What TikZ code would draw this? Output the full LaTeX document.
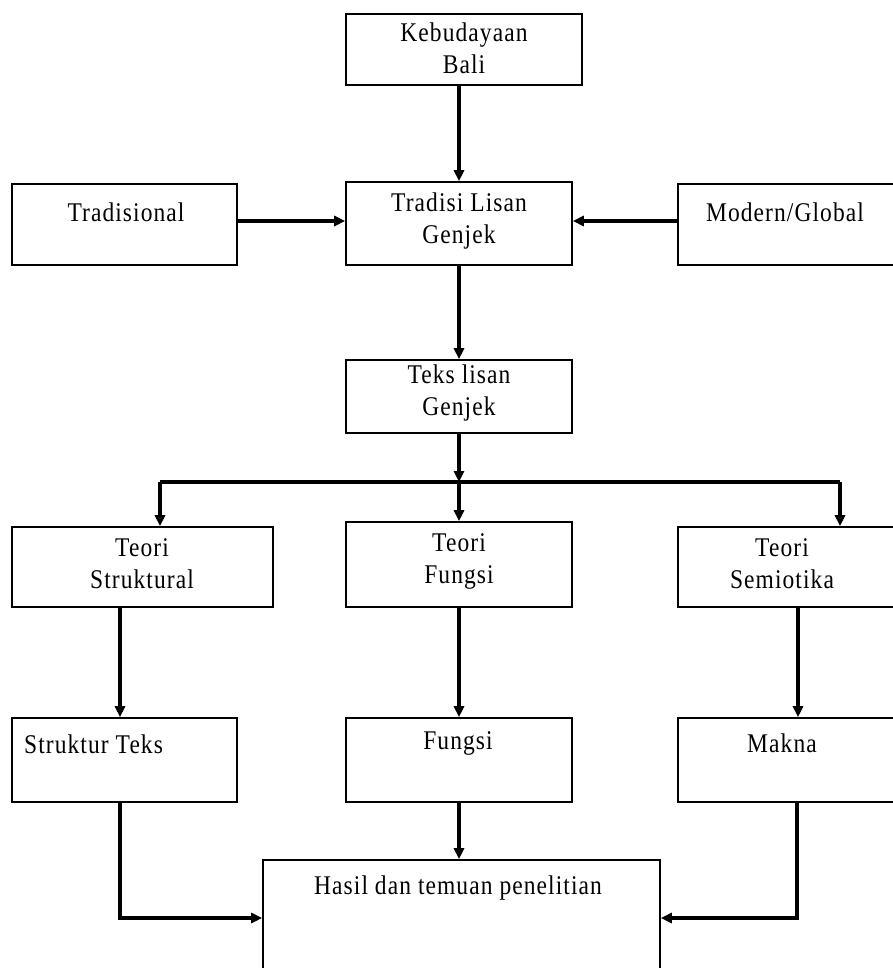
\documentclass[tikz,border=0pt]{standalone}
\usepackage{fontspec}
\setmainfont{Liberation Serif}[LetterSpace=4,FakeStretch=0.87]
\usetikzlibrary{arrows.meta,calc}
\tikzset{
  box/.style={draw=black,line width=1.6pt,rectangle,inner sep=0pt},
  txt/.style={inner sep=0pt,align=center,font=\fontsize{27}{32}\selectfont},
  arr/.style={draw=black,line width=3.4pt,-{Triangle[length=11pt,width=10pt]}},
  ln/.style={draw=black,line width=3.4pt}
}
\newcommand{\bx}[5]{\node[box,minimum width=#4-#2,minimum height=#5-#3] (#1) at ({(#2+#4)/2},{(#3+#5)/2}) {};}
\begin{document}
\begin{tikzpicture}[x=1pt,y=-1pt]
\useasboundingbox (0,0) rectangle (893,968);
\clip (0,0) rectangle (893,968);
% boxes
\bx{keb}{346}{14}{582}{85}
\bx{trad}{12}{184}{237}{265}
\bx{tl}{346}{182}{572}{265}
\bx{mod}{678}{184}{900}{265}
\bx{teks}{346}{360}{572}{433}
\bx{ts}{12}{527}{273}{607}
\bx{tf}{346}{522}{572}{607}
\bx{tsm}{678}{527}{900}{607}
\bx{st}{12}{718}{237}{802}
\bx{fu}{346}{718}{572}{802}
\bx{ma}{678}{718}{900}{802}
\bx{ha}{263}{860}{660}{990}
% texts
\node[txt] (tkeb) at (464,48) {Kebudayaan\\Bali};
\node[txt] (ttrad) at (126,212) {Tradisional};
\node[txt] (ttl) at (459,221) {Tradisi Lisan\\Genjek};
\node[txt] (tmod) at (785,212) {Modern/Global};
\node[txt] (tteks) at (459,393) {Teks lisan\\Genjek};
\node[txt] (tts) at (142,564) {Teori\\Struktural};
\node[txt] (ttf) at (459,561) {Teori\\Fungsi};
\node[txt] (ttsm) at (782,564) {Teori\\Semiotika};
\node[txt,anchor=west] (tst) at (24,744) {Struktur Teks};
\node[txt] (tfu) at (458,743) {Fungsi};
\node[txt] (tma) at (782,743) {Makna};
\node[txt] (tha) at (458,888) {Hasil dan temuan penelitian};
% connectors
\coordinate (j) at (459,482);
\coordinate (jl) at (160,482);
\coordinate (jr) at (840,482);
\draw[arr] (keb.south -| tl.north) -- (tl.north);
\draw[arr] (trad.east |- 0,221) -- (tl.west |- 0,221);
\draw[arr] (mod.west |- 0,221) -- (tl.east |- 0,221);
\draw[arr] (tl.south) -- (teks.north);
\draw[arr] (teks.south) -- (j);
\draw[ln] (jl) -- (jr);
\draw[arr] (j) -- (tf.north);
\draw[arr] (jl) -- (jl |- ts.north);
\draw[arr] (jr) -- (jr |- tsm.north);
\draw[arr] (ts.south -| 120,0) -- (st.north -| 120,0);
\draw[arr] (tf.south) -- (fu.north);
\draw[arr] (tsm.south -| 798,0) -- (ma.north -| 798,0);
\draw[arr] (st.south -| 120,0) |- (ha.west |- 0,918);
\draw[arr] (fu.south) -- (ha.north -| fu.south);
\draw[arr] (ma.south -| 797,0) |- (ha.east |- 0,918);
\end{tikzpicture}
\end{document}
